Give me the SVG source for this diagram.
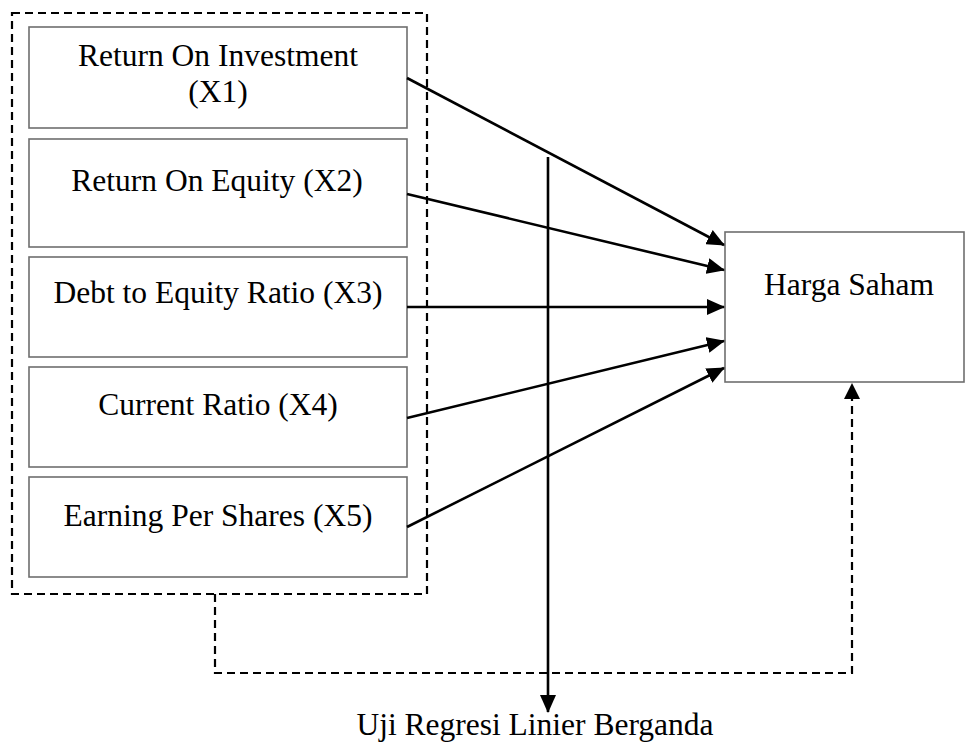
<svg xmlns="http://www.w3.org/2000/svg" width="965" height="745" viewBox="0 0 965 745">
<style>
.box{fill:#fff;stroke:#6e6e6e;stroke-width:1.6}
.t{font-family:"Liberation Serif","Times New Roman",serif;font-size:31.5px;fill:#000;text-anchor:middle}
.arr{stroke:#000;stroke-width:2.6;fill:none;marker-end:url(#ah)}
.dash{stroke:#000;stroke-width:2.2;fill:none;stroke-dasharray:8 5}
</style>
<defs>
<marker id="ah" markerUnits="userSpaceOnUse" markerWidth="18" markerHeight="16" refX="17" refY="8" orient="auto">
<path d="M0,0 L18,8 L0,16 z" fill="#000"/>
</marker>
</defs>
<rect width="965" height="745" fill="#fff"/>
<g id="group-box">
<rect class="dash" x="12" y="13" width="415" height="581"/>
</g>
<g id="x1">
<rect class="box" x="29" y="27" width="378" height="101"/>
<text class="t" x="218" y="66">Return On Investment</text>
<text class="t" x="218" y="102">(X1)</text>
</g>
<g id="x2">
<rect class="box" x="29" y="139" width="378" height="108"/>
<text class="t" x="217" y="191">Return On Equity (X2)</text>
</g>
<g id="x3">
<rect class="box" x="29" y="257" width="378" height="100"/>
<text class="t" x="218" y="303">Debt to Equity Ratio (X3)</text>
</g>
<g id="x4">
<rect class="box" x="29" y="367" width="378" height="100"/>
<text class="t" x="218" y="415">Current Ratio (X4)</text>
</g>
<g id="x5">
<rect class="box" x="29" y="477" width="378" height="100"/>
<text class="t" x="218" y="526">Earning Per Shares (X5)</text>
</g>
<g id="harga-saham">
<rect class="box" x="725" y="232" width="239" height="150"/>
<text class="t" x="849" y="295">Harga Saham</text>
</g>
<g id="uji-regresi">
<text class="t" x="535" y="735">Uji Regresi Linier Berganda</text>
</g>
<g id="connectors">
<line class="arr" x1="407" y1="78" x2="724" y2="245"/>
<line class="arr" x1="407" y1="194" x2="724" y2="270"/>
<line class="arr" x1="407" y1="307" x2="724" y2="307"/>
<line class="arr" x1="407" y1="418" x2="724" y2="341"/>
<line class="arr" x1="407" y1="527" x2="724" y2="368"/>
<line class="arr" x1="548" y1="157" x2="548" y2="712"/>
<path class="dash" d="M215,594 L215,673 L852,673 L852,398"/>
<path d="M852,383 L860,399 L844,399 z" fill="#000"/>
</g>
</svg>
